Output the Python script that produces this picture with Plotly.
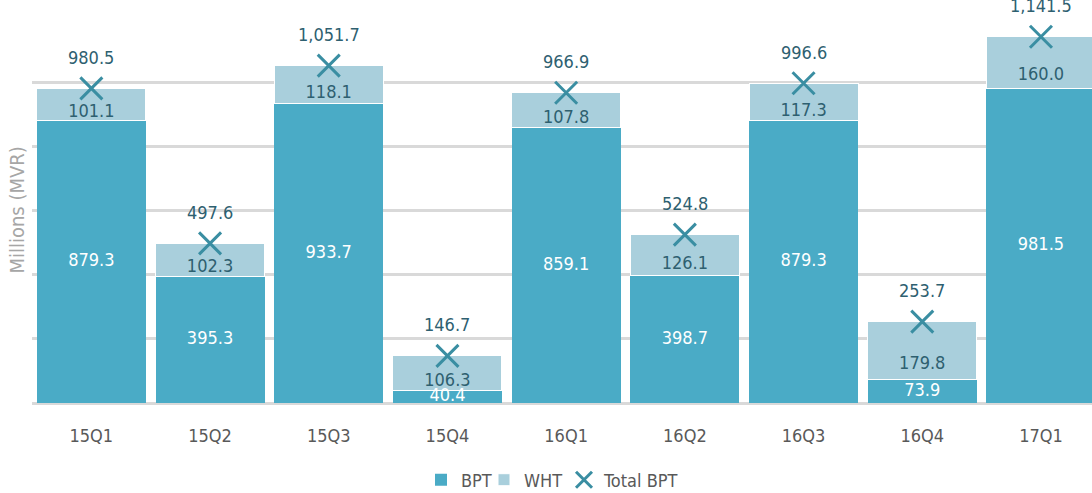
import plotly.graph_objects as go

categories = ["15Q1", "15Q2", "15Q3", "15Q4", "16Q1", "16Q2", "16Q3", "16Q4", "17Q1"]
bpt = [879.3, 395.3, 933.7, 40.4, 859.1, 398.7, 879.3, 73.9, 981.5]
wht = [101.1, 102.3, 118.1, 106.3, 107.8, 126.1, 117.3, 179.8, 160.0]
total = [980.5, 497.6, 1051.7, 146.7, 966.9, 524.8, 996.6, 253.7, 1141.5]

FONT = "DejaVu Sans Condensed, DejaVu Sans, sans-serif"
C_BPT = "#4aabc6"
C_WHT = "#a9cfdc"
C_X = "#3a8ea2"
C_LBL = "#2e6070"

fig = go.Figure()
fig.add_trace(go.Bar(x=categories, y=bpt, name="BPT", legend="legend",
                     marker=dict(color=C_BPT, line=dict(width=0))))
fig.add_trace(go.Bar(x=categories, y=wht, name="WHT", legend="legend2",
                     marker=dict(color=C_WHT, line=dict(color="white", width=1))))
fig.add_trace(go.Scatter(x=categories, y=total, name="Total BPT", mode="markers", legend="legend3",
                         marker=dict(symbol="x-thin", size=22, line=dict(color=C_X, width=3), color=C_X)))

# BPT labels (middle of segment)
fig.add_trace(go.Scatter(x=categories, y=[b / 2 for b in bpt], mode="text",
                         text=[f"{b:,.1f}" for b in bpt], showlegend=False, hoverinfo="skip",
                         textfont=dict(family=FONT, size=18, color="white")))
# WHT labels (near base of segment)
fig.add_trace(go.Scatter(x=categories, y=[b + 0.25 * w for b, w in zip(bpt, wht)], mode="text",
                         text=[f"{w:,.1f}" for w in wht], showlegend=False, hoverinfo="skip",
                         textfont=dict(family=FONT, size=18, color=C_LBL)))
# Total labels
for c, t in zip(categories, total):
    fig.add_annotation(x=c, y=t, text=f"{t:,.1f}", showarrow=False, yshift=31,
                       font=dict(family=FONT, size=18, color=C_LBL))

fig.add_annotation(text="Millions (MVR)", xref="paper", yref="paper", x=-0.015, y=0.5,
                   xanchor="center", yanchor="middle", textangle=-90, showarrow=False,
                   font=dict(family=FONT, size=20, color="#a6a6a6"))

W, H = 1092, 493


def leg(left_px):
    return dict(orientation="h", x=left_px / W, xanchor="left", xref="container",
                y=13 / H, yanchor="middle", yref="container", bgcolor="rgba(0,0,0,0)",
                font=dict(family=FONT, size=18, color="#595959"), itemwidth=30)


fig.update_layout(
    width=W, height=H,
    margin=dict(l=32, r=0, t=18, b=90),
    barmode="stack", bargap=0.082,
    plot_bgcolor="white", paper_bgcolor="white",
    font=dict(family=FONT, size=18, color="#595959"),
    legend=leg(421), legend2=leg(484), legend3=leg(564),
    xaxis=dict(range=[-0.5, 8.43], showgrid=False, showline=False, automargin=False,
               ticks="outside", ticklen=16, tickcolor="rgba(0,0,0,0)",
               tickfont=dict(family=FONT, size=18, color="#595959")),
    yaxis=dict(range=[0, 1200], dtick=200, showticklabels=False, showgrid=True, automargin=False,
               gridcolor="#d9d9d9", gridwidth=3, zeroline=True, zerolinecolor="#d9d9d9",
               zerolinewidth=3, showline=False),
)
fig.write_html("out.html", config={"displayModeBar": False},
               post_script="document.body.style.margin='0';document.body.style.overflow='hidden';")
